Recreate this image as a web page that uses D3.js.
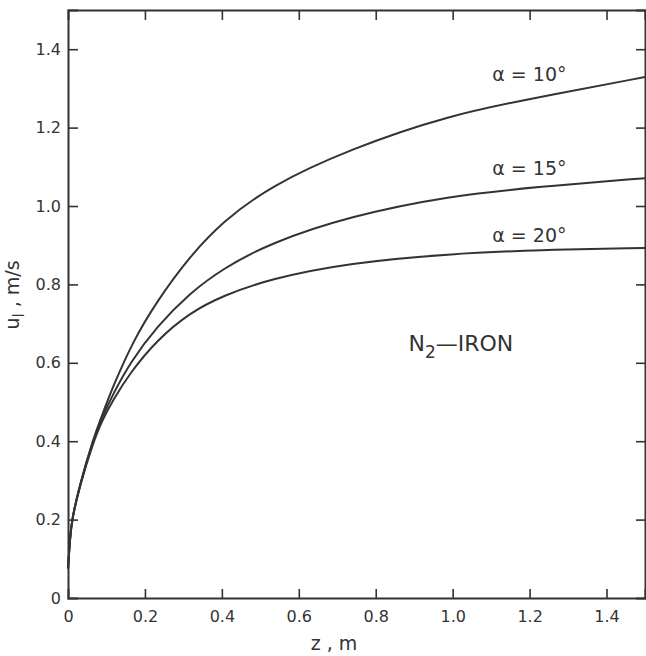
<!DOCTYPE html>
<html>
<head>
<meta charset="utf-8">
<script src="https://cdn.jsdelivr.net/npm/d3@7"></script>
<style>
body { margin: 0; background: #fff; }
text { font-family: "DejaVu Sans", "Liberation Sans", sans-serif; fill: #333; }
</style>
</head>
<body>
<div id="chart"></div>
<script>
// data (z in m, u_l in m/s)
var zA10 = [0, 0.005, 0.01, 0.031, 0.065, 0.088, 0.117, 0.169, 0.231, 0.317, 0.402, 0.524, 0.732, 0.991, 1.225, 1.5];
var uA10 = [0.075, 0.15, 0.2, 0.29, 0.405, 0.465, 0.54, 0.655, 0.757, 0.872, 0.96, 1.05, 1.145, 1.232, 1.278, 1.329];

var zA15 = [0, 0.005, 0.01, 0.031, 0.065, 0.088, 0.117, 0.161, 0.231, 0.317, 0.402, 0.524, 0.732, 0.991, 1.225, 1.5];
var uA15 = [0.075, 0.15, 0.2, 0.29, 0.402, 0.46, 0.52, 0.6, 0.693, 0.778, 0.84, 0.905, 0.974, 1.026, 1.049, 1.071];

var zA20 = [0, 0.005, 0.01, 0.031, 0.065, 0.088, 0.117, 0.161, 0.231, 0.317, 0.402, 0.524, 0.732, 0.991, 1.225, 1.5];
var uA20 = [0.075, 0.15, 0.2, 0.288, 0.395, 0.452, 0.505, 0.574, 0.658, 0.728, 0.771, 0.814, 0.855, 0.878, 0.888, 0.893];

var curveNames = ["10", "15", "20"];
// label anchor (z, u) for each curve
var labelZ = [1.103, 1.103, 1.103];
var labelU = [1.319, 1.079, 0.908];

var xTicks = [0, 0.2, 0.4, 0.6, 0.8, 1.0, 1.2, 1.4];
var xTickLabels = ["0", "0.2", "0.4", "0.6", "0.8", "1.0", "1.2", "1.4"];
var yTicks = [0, 0.2, 0.4, 0.6, 0.8, 1.0, 1.2, 1.4];
var yTickLabels = ["0", "0.2", "0.4", "0.6", "0.8", "1.0", "1.2", "1.4"];

var svgWidth = 646, svgHeight = 656;
var margin = {top: 10, right: 1, bottom: 58, left: 68};
var chartWidth = svgWidth - margin.left - margin.right;
var chartHeight = svgHeight - margin.top - margin.bottom;

var svg = d3.select("#chart").append("svg")
  .attr("width", svgWidth)
  .attr("height", svgHeight);

var g = svg.append("g")
  .attr("transform", `translate(${margin.left}, ${margin.top})`);

var x = d3.scaleLinear().domain([0, 1.5]).range([0, chartWidth]);
var y = d3.scaleLinear().domain([0, 1.5]).range([chartHeight, 0]);

var ink = "#333";

function styleAxis(sel) {
  sel.select(".domain").attr("stroke", ink).attr("stroke-width", 2);
  sel.selectAll(".tick line").attr("stroke", ink).attr("stroke-width", 1.6);
  sel.selectAll("text").attr("font-size", 16).attr("fill", ink);
}

// bottom axis
g.append("g")
  .attr("transform", `translate(0, ${chartHeight})`)
  .call(d3.axisBottom(x).tickValues(xTicks).tickSize(-9).tickPadding(13)
    .tickFormat((d, i) => xTickLabels[i]))
  .call(styleAxis)
  .call(a => a.selectAll(".tick").filter(d => d === 0).select("line").remove());

// left axis
g.append("g")
  .call(d3.axisLeft(y).tickValues(yTicks).tickSize(-10).tickPadding(7)
    .tickFormat((d, i) => yTickLabels[i]))
  .call(styleAxis)
  .call(a => a.selectAll(".tick").filter(d => d === 0).select("line").remove());

// top and right frame with inward ticks
g.append("g")
  .call(d3.axisTop(x).tickValues(xTicks.filter(d => d > 0)).tickSize(-10).tickFormat(""))
  .call(styleAxis);
g.append("g")
  .attr("transform", `translate(${chartWidth}, 0)`)
  .call(d3.axisRight(y).tickValues(yTicks.filter(d => d > 0)).tickSize(-9).tickFormat(""))
  .call(styleAxis);

// curves
var series = [
  {z: zA10, u: uA10},
  {z: zA15, u: uA15},
  {z: zA20, u: uA20}
];

var line = d3.line()
  .x(d => x(d[0]))
  .y(d => y(d[1]))
  .curve(d3.curveBasis);

series.forEach(function(s) {
  g.append("path")
    .datum(s.z.map((z, i) => [z, s.u[i]]))
    .attr("fill", "none")
    .attr("stroke", ink)
    .attr("stroke-width", 2)
    .attr("d", line);
});

// curve labels
curveNames.forEach(function(name, i) {
  g.append("text")
    .attr("x", x(labelZ[i]))
    .attr("y", y(labelU[i]))
    .attr("font-size", 19)
    .text("\u03b1 = " + name + "\u00b0");
});

// N2-IRON
var n2 = g.append("text")
  .attr("x", x(0.885))
  .attr("y", y(0.629))
  .attr("font-size", 22);
n2.append("tspan").text("N");
n2.append("tspan").attr("dy", 7).attr("font-size", 17).text("2");
n2.append("tspan").attr("dy", -7).text("\u2014IRON");

// axis titles
g.append("text")
  .attr("x", 334 - margin.left)
  .attr("y", chartHeight + 52)
  .attr("text-anchor", "middle")
  .attr("font-size", 19)
  .text("z , m");

var yt = g.append("text")
  .attr("transform", "rotate(-90)")
  .attr("x", -(295 - margin.top))
  .attr("y", 19 - margin.left)
  .attr("text-anchor", "middle")
  .attr("font-size", 19);
yt.append("tspan").text("u");
yt.append("tspan").attr("dy", 5).attr("font-size", 15).text("l");
yt.append("tspan").attr("dy", -5).text(" , m/s");
</script>
</body>
</html>
